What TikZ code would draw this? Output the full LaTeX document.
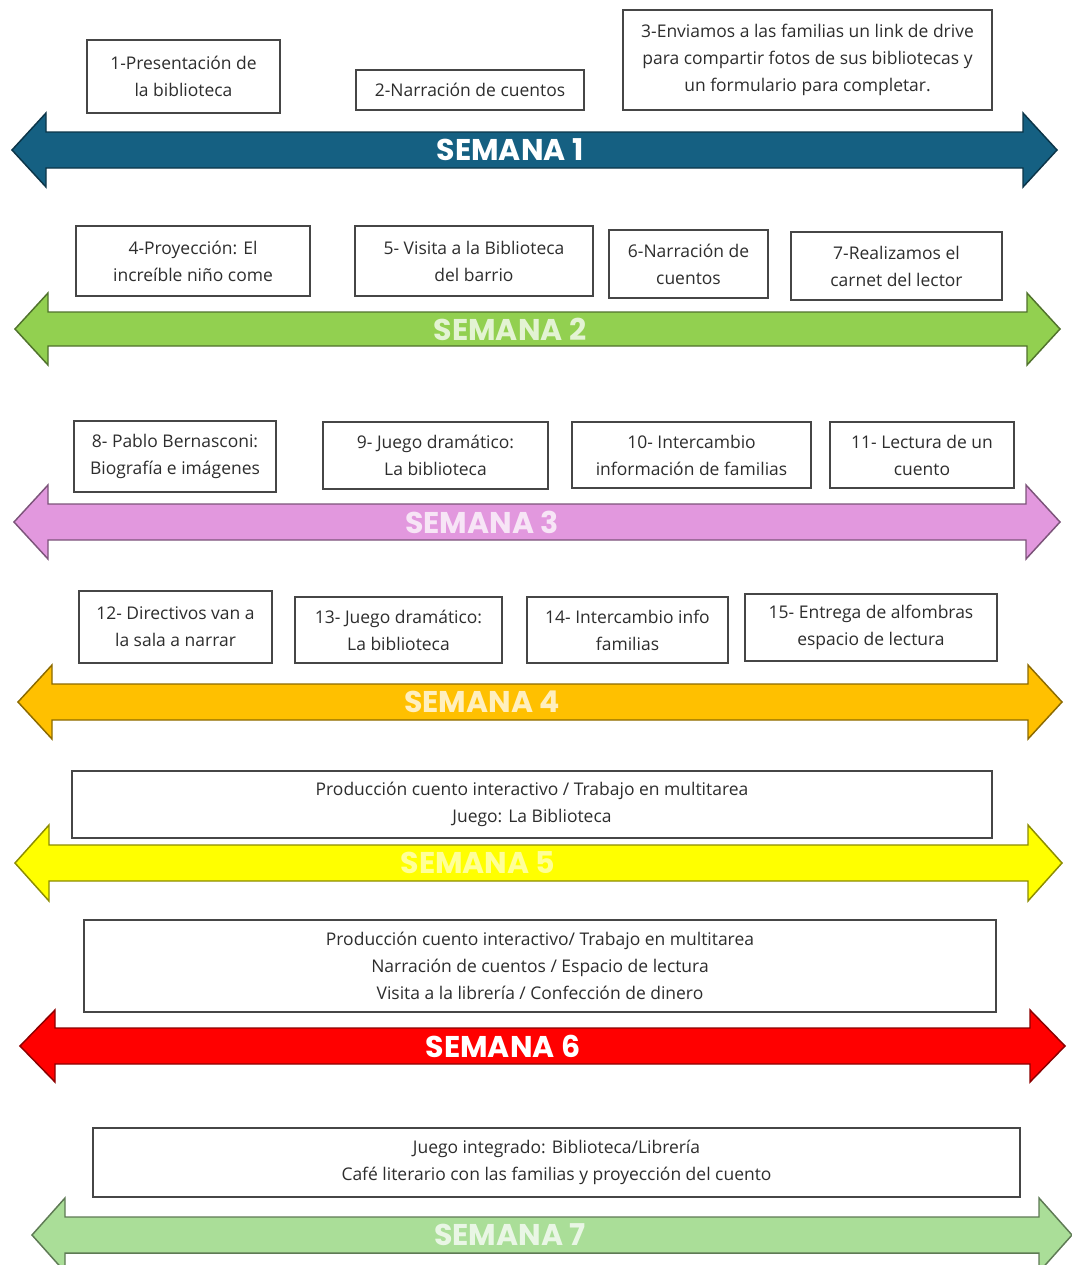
\documentclass[tikz,border=0pt]{standalone}
\usepackage{fontspec}
\setmainfont{Open Sans}
\newfontfamily\weekfont{Poppins}
\usetikzlibrary{positioning}
\definecolor{wkone}{RGB}{21,96,130}
\definecolor{wktwo}{RGB}{146,208,80}
\definecolor{wkthree}{RGB}{226,152,222}
\definecolor{wkfour}{RGB}{255,192,0}
\definecolor{wkfive}{RGB}{255,255,0}
\definecolor{wksix}{RGB}{255,0,0}
\definecolor{wkseven}{RGB}{170,222,152}
\definecolor{boxline}{RGB}{70,70,70}
\definecolor{boxtext}{RGB}{45,45,45}
\tikzset{
  actbox/.style={rectangle, draw=boxline, line width=1pt, fill=white,
                 align=center, inner sep=0pt, text=boxtext,
                 font=\fontsize{13.1}{20.2}\selectfont},
  weekarrow/.style={line width=1.1pt, line join=miter},
  weeklabel/.style={text=white, font=\weekfont\fontsize{22.5}{22.5}\selectfont\bfseries},
}
\begin{document}
\begin{tikzpicture}[x=0.75pt, y=-0.75pt]
    \useasboundingbox (0,0) rectangle (1072,1265);

    % week arrows
    \foreach \n/\yc/\xl/\xr/\hl/\sh/\hh/\col/\lx/\op in {
      1/150/12/1057/34/18/37/wkone/510/1,
      2/329/15/1060/33/17/36/wktwo/510/0.75,
      3/522/14/1060/34/18/37/wkthree/482/0.75,
      4/702/18/1062/34/18/37/wkfour/482/0.75,
      5/863/15/1062/34/18/38/wkfive/478/0.6,
      6/1046/20/1065/35/18/36/wksix/503/1,
      7/1235/32/1072/33/18/37/wkseven/510/0.75}{
      \draw[weekarrow, fill=\col, draw=\col!55!black]
        (\xl,\yc) -- ({\xl+\hl},{\yc-\hh}) -- ({\xl+\hl},{\yc-\sh})
        -- ({\xr-\hl},{\yc-\sh}) -- ({\xr-\hl},{\yc-\hh}) -- (\xr,\yc)
        -- ({\xr-\hl},{\yc+\hh}) -- ({\xr-\hl},{\yc+\sh})
        -- ({\xl+\hl},{\yc+\sh}) -- ({\xl+\hl},{\yc+\hh}) -- cycle;
      \node[weeklabel, text opacity=\op] (s\n) at (\lx,\yc) {SEMANA \n};
    }

    % activity boxes
    \foreach \name/\cx/\cy/\w/\h/\txt in {
      b1/183.5/76.5/193/73/{1-Presentación de\\la biblioteca},
      b2/470/90/228/40/{2-Narración de cuentos},
      b3/807.5/60/369/100/{3-Enviamos a las familias un link de drive\\para compartir fotos de sus bibliotecas y\\un formulario para completar.},
      b4/193/261/234/70/{4-Proyección: El\\increíble niño come},
      b5/474/261/238/70/{5- Visita a la Biblioteca\\del barrio},
      b6/688.5/264/159/68/{6-Narración de\\cuentos},
      b7/896.5/266/211/68/{7-Realizamos el\\carnet del lector},
      b8/175/456.5/202/71/{8- Pablo Bernasconi:\\Biografía e imágenes},
      b9/435.5/455.5/225/67/{9- Juego dramático:\\La biblioteca},
      b10/691.5/455/239/66/{10- Intercambio\\información de familias},
      b11/922/455/184/66/{11- Lectura de un\\cuento},
      b12/175.5/627/193/72/{12- Directivos van a\\la sala a narrar},
      b13/398.5/630/207/66/{13- Juego dramático:\\La biblioteca},
      b14/627.5/630/201/66/{14- Intercambio info\\familias},
      b15/871/627.5/252/67/{15- Entrega de alfombras\\espacio de lectura},
      b16/532/804.5/920/67/{Producción cuento interactivo / Trabajo en multitarea\\Juego: La Biblioteca},
      b17/540/966/912/92/{Producción cuento interactivo/ Trabajo en multitarea\\Narración de cuentos / Espacio de lectura\\Visita a la librería / Confección de dinero},
      b18/556.5/1162.5/927/69/{Juego integrado: Biblioteca/Librería\\Café literario con las familias y proyección del cuento}}{
      \node[actbox, minimum width=\w*0.75pt, minimum height=\h*0.75pt]
        (\name) at (\cx,\cy) {\txt};
    }
\end{tikzpicture}
\end{document}
